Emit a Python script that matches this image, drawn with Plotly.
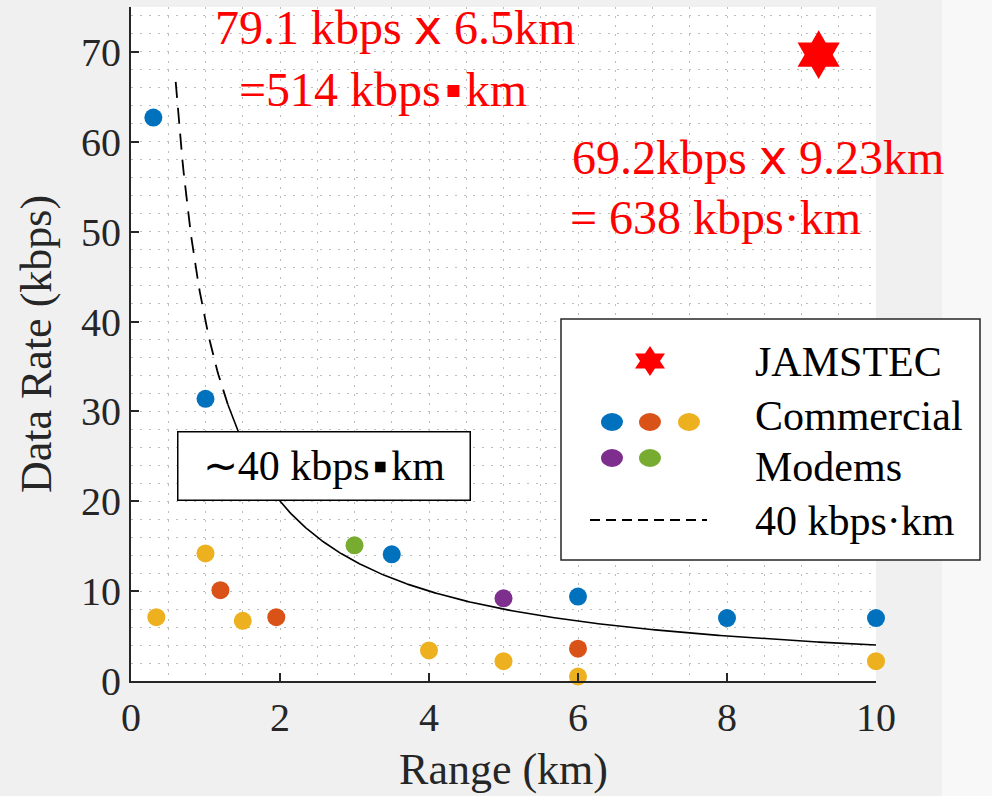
import numpy as np
import plotly.graph_objects as go

# ---------------- data ----------------
blue_x = [0.3, 1.0, 3.5, 6.0, 8.0, 10.0]
blue_y = [62.7, 31.4, 14.1, 9.4, 7.0, 7.0]
orange_x = [1.2, 1.95, 6.0]
orange_y = [10.1, 7.1, 3.6]
yellow_x = [0.34, 1.0, 1.5, 4.0, 5.0, 6.0, 10.0]
yellow_y = [7.1, 14.2, 6.7, 3.4, 2.2, 0.5, 2.2]
purple_x = [5.0]
purple_y = [9.2]
green_x = [3.0]
green_y = [15.1]
jam_x = [9.23]
jam_y = [69.7]
K = 40  # kbps*km reference curve
curve_dash_x = np.linspace(0.6, 1.3, 40)
curve_solid_x = np.linspace(1.3, 10, 400)

x_ticks = [0, 2, 4, 6, 8, 10]
y_ticks = [0, 10, 20, 30, 40, 50, 60, 70]

FONT = "Liberation Serif"
DARK = "#262626"
GRID = "#bdbdbd"
C_BLUE, C_ORANGE, C_YELLOW = "#0072BD", "#D95319", "#EDB120"
C_PURPLE, C_GREEN = "#7E2F8E", "#77AC30"

fig = go.Figure()

fig.add_trace(go.Scatter(x=curve_dash_x, y=K / curve_dash_x, mode="lines",
                         line=dict(color="black", width=1.8, dash="16px,10px"),
                         showlegend=False, hoverinfo="skip"))
fig.add_trace(go.Scatter(x=curve_solid_x, y=K / curve_solid_x, mode="lines",
                         line=dict(color="black", width=1.6),
                         showlegend=False, hoverinfo="skip"))

for xs, ys, c in [(blue_x, blue_y, C_BLUE), (orange_x, orange_y, C_ORANGE),
                  (yellow_x, yellow_y, C_YELLOW), (purple_x, purple_y, C_PURPLE),
                  (green_x, green_y, C_GREEN)]:
    fig.add_trace(go.Scatter(x=xs, y=ys, mode="markers", cliponaxis=False,
                             marker=dict(color=c, size=18, line=dict(width=0)),
                             showlegend=False))

fig.add_trace(go.Scatter(x=jam_x, y=jam_y, mode="markers", cliponaxis=False,
                         marker=dict(symbol="hexagram", color="#FF0000", size=37,
                                     line=dict(width=0)),
                         showlegend=False))

# pixel helpers for paper coords (plot area: x 131..876, y 7..681)
PL, PR, PT, PB = 131, 876, 7, 681
def px(x):
    return (x - PL) / (PR - PL)
def py(y):
    return (PB - y) / (PB - PT)

shapes = []
# right textured strip
shapes.append(dict(type="rect", xref="paper", yref="paper", x0=px(942), x1=px(1000),
                   y0=py(800), y1=py(-5), fillcolor="#f8f8f8", line=dict(width=0),
                   layer="below"))
# legend box
shapes.append(dict(type="rect", xref="paper", yref="paper", x0=px(561), x1=px(980),
                   y0=py(560), y1=py(319), fillcolor="white",
                   line=dict(color=DARK, width=1.5), layer="above"))
# legend star (hexagram) as path in pixels
def hexagram_path(rx, ry):
    pts = []
    for k in range(12):
        ang = np.pi / 2 + k * np.pi / 6
        r = 1.0 if k % 2 == 0 else 0.5774
        pts.append((rx * r * np.cos(ang), ry * r * np.sin(ang)))
    return "M" + " L".join(f"{a:.2f},{b:.2f}" for a, b in pts) + " Z"
shapes.append(dict(type="path", xref="paper", yref="paper", xsizemode="pixel",
                   ysizemode="pixel", xanchor=px(650), yanchor=py(361),
                   path=hexagram_path(17.3, 15), fillcolor="#FF0000",
                   line=dict(width=0), layer="above"))
for cx, cy, c in [(612, 422, C_BLUE), (650, 422, C_ORANGE), (689, 422, C_YELLOW),
                  (612, 458, C_PURPLE), (650, 458, C_GREEN)]:
    shapes.append(dict(type="circle", xref="paper", yref="paper", xsizemode="pixel",
                       ysizemode="pixel", xanchor=px(cx), yanchor=py(cy),
                       x0=-11, x1=11, y0=-9, y1=9, fillcolor=c,
                       line=dict(width=0), layer="above"))
shapes.append(dict(type="line", xref="paper", yref="paper", x0=px(590), x1=px(707),
                   y0=py(520), y1=py(520), line=dict(color="black", width=2, dash="10px,6px"),
                   layer="above"))

ann = []
def text(xp, yp, s, size, color="black", xanchor="left"):
    ann.append(dict(x=px(xp), y=py(yp), xref="paper", yref="paper", text=s,
                    showarrow=False, xanchor=xanchor, yanchor="middle",
                    font=dict(family=FONT, size=size, color=color)))

XS = "<span style='font-family:DejaVu Sans'>x</span>"
SQ = "\u200a▪\u200a"
text(213, 27, f"79.1 kbps {XS} 6.5km", 48, "#FF0000")
text(237, 90, f"=514 kbps{SQ}km", 48, "#FF0000")
text(570, 157, f"69.2kbps {XS} 9.23km", 48, "#FF0000")
text(568, 217, "= 638 kbps·km", 48, "#FF0000")

for s, yy in [("JAMSTEC", 362), ("Commercial", 416), ("Modems", 467), ("40 kbps·km", 521)]:
    text(753, yy, s, 42)

# boxed label
ann.append(dict(x=px(324), y=py(466), xref="paper", yref="paper",
                text=f"∼40 kbps{SQ}km",
                showarrow=False, xanchor="center", yanchor="middle",
                width=291, height=67, borderpad=0, bgcolor="white",
                bordercolor="black", borderwidth=1.5,
                font=dict(family=FONT, size=42, color="black")))

axis_common = dict(showline=True, linecolor=DARK, linewidth=2, mirror=False,
                   ticks="inside", ticklen=8, tickwidth=2, tickcolor=DARK,
                   tickfont=dict(family=FONT, size=40, color=DARK),
                   showgrid=True, gridcolor=GRID, gridwidth=1, griddash="2px,7px",
                   zeroline=False)

fig.update_layout(
    width=992, height=796,
    margin=dict(l=PL, r=992 - PR, t=PT, b=796 - PB),
    paper_bgcolor="#f0f0f0", plot_bgcolor="white",
    font=dict(family=FONT, color=DARK),
    xaxis=dict(range=[0, 10], tickvals=x_ticks, ticktext=[str(v) for v in x_ticks],
               title=dict(text="Range (km)", font=dict(family=FONT, size=44, color=DARK),
                          standoff=14),
               minor=dict(dtick=0.5, showgrid=True, gridcolor=GRID, gridwidth=1,
                          griddash="2px,7px", ticks=""),
               **axis_common),
    yaxis=dict(range=[0, 75], tickvals=y_ticks, ticktext=[str(v) for v in y_ticks],
               title=dict(text="Data Rate (kbps)", font=dict(family=FONT, size=44, color=DARK),
                          standoff=16),
               minor=dict(dtick=2, showgrid=True, gridcolor=GRID, gridwidth=1,
                          griddash="2px,7px", ticks=""),
               **axis_common),
    shapes=shapes,
    annotations=ann,
    showlegend=False,
)

fig.write_html("out.html", config={"displayModeBar": False},
               post_script="document.body.style.margin='0px';document.body.style.overflow='hidden';")
